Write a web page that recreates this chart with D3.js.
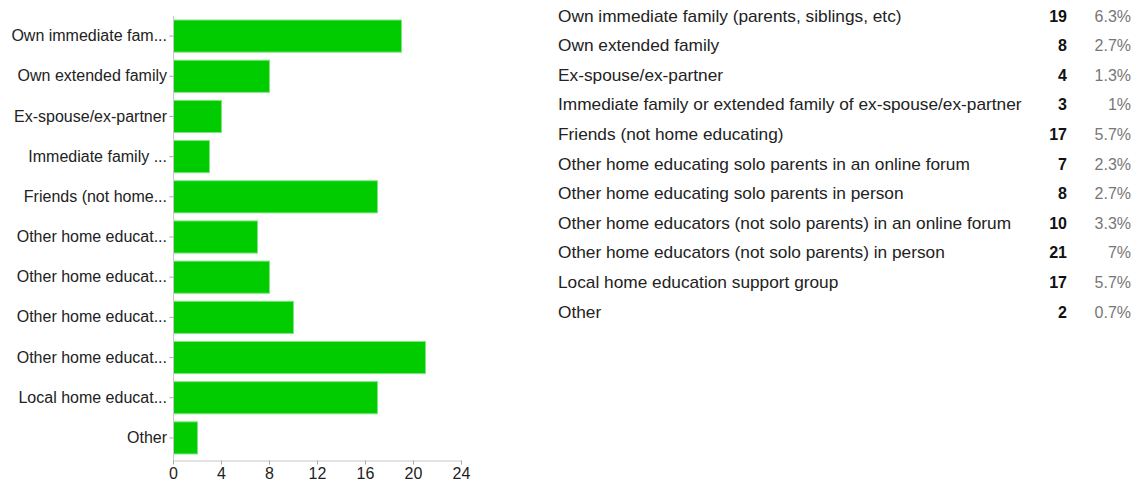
<!DOCTYPE html>
<html>
<head>
<meta charset="utf-8">
<script src="https://cdn.jsdelivr.net/npm/d3@7"></script>
<style>
  html, body { margin: 0; padding: 0; background: #fff; }
  svg { display: block; font-family: "Liberation Sans", Arial, sans-serif; }
</style>
</head>
<body>
<svg id="chart" width="1135" height="482"></svg>
<script>
const categories = [
  "Own immediate family (parents, siblings, etc)",
  "Own extended family",
  "Ex-spouse/ex-partner",
  "Immediate family or extended family of ex-spouse/ex-partner",
  "Friends (not home educating)",
  "Other home educating solo parents in an online forum",
  "Other home educating solo parents in person",
  "Other home educators (not solo parents) in an online forum",
  "Other home educators (not solo parents) in person",
  "Local home education support group",
  "Other"
];
const axisLabels = [
  "Own immediate fam...",
  "Own extended family",
  "Ex-spouse/ex-partner",
  "Immediate family ...",
  "Friends (not home...",
  "Other home educat...",
  "Other home educat...",
  "Other home educat...",
  "Other home educat...",
  "Local home educat...",
  "Other"
];
const counts = [19, 8, 4, 3, 17, 7, 8, 10, 21, 17, 2];
const percents = ["6.3%", "2.7%", "1.3%", "1%", "5.7%", "2.3%", "2.7%", "3.3%", "7%", "5.7%", "0.7%"];
const xTicks = [0, 4, 8, 12, 16, 20, 24];

const svg = d3.select("#chart");
const FONT = '"Liberation Sans", Arial, sans-serif';

const x = d3.scaleLinear().domain([0, 24]).range([173, 461]);
const y = d3.scaleBand().domain(d3.range(categories.length)).range([16, 458])
  .paddingInner(0.2).paddingOuter(0.1);

// bars
svg.append("g").selectAll("rect").data(counts).join("rect")
  .attr("x", x(0) + 0.5)
  .attr("y", (d, i) => y(i))
  .attr("width", d => x(d) - x(0))
  .attr("height", y.bandwidth())
  .attr("fill", "#00cc00")
  .attr("stroke", "#80e680")
  .attr("stroke-width", 1);

// y axis
const yAxis = d3.axisLeft(y).tickFormat(i => axisLabels[i]).tickSize(4).tickPadding(2).tickSizeOuter(0);
const gy = svg.append("g").attr("transform", `translate(${x(0)},0)`).call(yAxis)
  .attr("font-family", FONT).attr("font-size", 16);
gy.select(".domain").attr("stroke", "#c8c8c8").attr("d", "M0.5,16V461");
gy.selectAll(".tick line").attr("stroke", "#aaa").attr("transform", "translate(0.5,0)");
gy.selectAll(".tick text").attr("fill", "#222");

// x axis
const xAxis = d3.axisBottom(x).tickValues(xTicks).tickSize(4).tickPadding(3).tickSizeOuter(0);
const gx = svg.append("g").attr("transform", "translate(0,460.5)").call(xAxis)
  .attr("font-family", FONT).attr("font-size", 16);
gx.select(".domain").attr("stroke", "#c8c8c8");
gx.selectAll(".tick line").attr("stroke", "#aaa");
gx.selectAll(".tick text").attr("fill", "#222");

// right table
const rowY = d3.scalePoint().domain(d3.range(categories.length)).range([16, 312]);
const table = svg.append("g").attr("font-size", 16);
table.selectAll("text.lab").data(categories).join("text")
  .attr("class", "lab")
  .attr("transform", (d, i) => `translate(558,${rowY(i)}) scale(1.08,1)`)
  .attr("dy", "0.35em")
  .attr("fill", "#222")
  .text(d => d);
table.selectAll("text.cnt").data(counts).join("text")
  .attr("class", "cnt")
  .attr("x", 1067)
  .attr("y", (d, i) => rowY(i))
  .attr("dy", "0.35em")
  .attr("text-anchor", "end")
  .attr("font-weight", "bold")
  .attr("fill", "#111")
  .text(d => d);
table.selectAll("text.pct").data(percents).join("text")
  .attr("class", "pct")
  .attr("x", 1131)
  .attr("y", (d, i) => rowY(i))
  .attr("dy", "0.35em")
  .attr("text-anchor", "end")
  .attr("fill", "#777")
  .text(d => d);
</script>
</body>
</html>
